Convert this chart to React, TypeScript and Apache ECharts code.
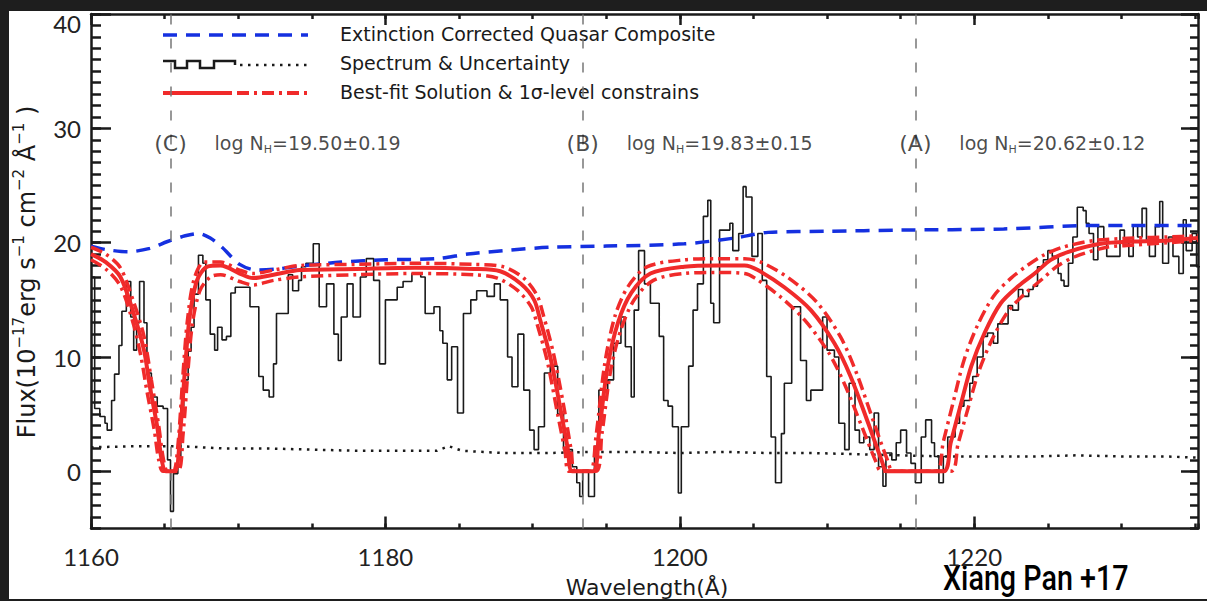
import React, { useEffect, useRef } from 'react';
import * as echarts from 'echarts';

// ---------- data ----------
const xTicks = [1160, 1180, 1200, 1220];
const yTicks = [0, 10, 20, 30, 40];

// observed spectrum (bin start wavelength, flux)
const specWave = [
  1160.0, 1160.25, 1160.6, 1160.95, 1161.1, 1161.4, 1161.6, 1161.9, 1162.1, 1162.4,
  1162.7, 1162.9, 1163.1, 1163.3, 1163.6, 1163.8, 1164.1, 1164.5, 1164.9, 1165.2,
  1165.4, 1165.6, 1165.9, 1166.1, 1166.3, 1166.6, 1166.8, 1167.0, 1167.3, 1167.6,
  1167.8, 1168.1, 1168.4, 1168.6, 1168.9, 1169.2, 1169.5, 1169.8, 1170.8, 1171.4,
  1171.7, 1172.1, 1172.4, 1172.6, 1173.4, 1173.7, 1174.1, 1174.3, 1174.6, 1175.1,
  1175.5, 1176.0, 1176.5, 1176.8, 1177.0, 1177.4, 1177.8, 1178.3, 1178.7, 1179.2,
  1179.6, 1180.0, 1180.8, 1181.2, 1181.8, 1182.4, 1182.7, 1183.3, 1183.7, 1183.9,
  1184.2, 1184.5, 1184.9, 1185.3, 1185.8, 1186.2, 1186.9, 1187.4, 1187.8, 1188.3,
  1188.6, 1189.0, 1189.4, 1189.8, 1190.1, 1190.4, 1190.8, 1191.2, 1191.7, 1192.1,
  1192.7, 1193.0, 1193.2, 1193.4, 1193.8, 1194.2, 1194.5, 1195.1, 1195.5, 1196.0,
  1196.3, 1196.7, 1196.9, 1197.2, 1197.6, 1198.0, 1198.6, 1198.9, 1199.2, 1199.5,
  1199.9, 1200.1, 1200.6, 1200.9, 1201.2, 1201.6, 1201.9, 1202.1, 1202.3, 1202.7,
  1203.4, 1203.6, 1204.0, 1204.3, 1204.5, 1204.9, 1205.3, 1205.6, 1205.9, 1206.2,
  1206.5, 1206.9, 1207.1, 1207.6, 1208.2, 1208.6, 1208.9, 1209.7, 1210.0, 1210.5,
  1210.8, 1211.2, 1211.5, 1211.9, 1212.2, 1212.5, 1212.9, 1213.2, 1213.5, 1213.8,
  1214.0, 1214.4, 1214.7, 1215.0, 1215.4, 1215.7, 1216.0, 1216.4, 1216.7, 1217.1,
  1217.3, 1217.6, 1217.9, 1218.2, 1218.7, 1219.0, 1219.3, 1219.7, 1219.9, 1220.2,
  1220.6, 1220.9, 1221.3, 1221.6, 1222.3, 1222.6, 1223.0, 1223.3, 1223.7, 1224.0,
  1224.3, 1224.7, 1225.0, 1225.3, 1225.7, 1225.9, 1226.1, 1226.4, 1226.7, 1227.0,
  1227.4, 1227.6, 1227.8, 1228.1, 1228.4, 1228.8, 1229.0, 1229.9, 1230.2, 1230.5,
  1230.8, 1231.1, 1231.4, 1231.7, 1231.9, 1232.3, 1232.6, 1232.8, 1233.2, 1233.5,
  1233.9, 1234.2, 1234.4, 1234.8, 1235.1, 1235.4,
];
const specFlux = [
  17.0, 5.5, 4.8, 4.2, 3.6, 6.2, 8.5, 11.0, 14.0, 16.6,
  13.5, 10.6, 13.0, 16.6, 13.0, 8.6, 6.5, 5.7, 5.5, 1.0,
  -3.5, -0.2, 0.5, 5.7, 8.0, 10.5, 12.6, 15.5, 18.9, 18.2,
  15.0, 12.0, 10.6, 12.6, 11.5, 11.8, 15.6, 16.1, 14.4, 8.3,
  7.1, 6.5, 9.4, 13.8, 17.2, 15.8, 16.7, 17.9, 18.2, 19.9,
  14.4, 16.4, 12.0, 9.7, 13.5, 16.4, 13.5, 17.0, 18.6, 16.7,
  9.4, 15.0, 16.1, 16.6, 17.3, 17.0, 13.8, 14.4, 12.3, 11.2,
  8.0, 10.9, 5.1, 13.8, 15.0, 15.8, 15.3, 16.4, 15.0, 10.0,
  7.4, 12.0, 7.1, 3.6, 1.9, 3.9, 8.6, 9.2, 5.0, 1.9,
  0.4, -1.0, -2.2, 0.1, -2.2, 2.2, 7.1, 8.0, 11.2, 13.5,
  10.9, 6.5, 14.1, 19.3, 16.4, 14.7, 11.8, 6.2, 5.7, 3.9,
  -1.9, 3.9, 9.2, 14.1, 16.4, 22.3, 23.7, 14.7, 13.0, 21.1,
  21.7, 19.3, 20.8, 24.9, 24.0, 18.8, 20.8, 16.7, 8.3, 3.0,
  -1.0, 3.3, 7.7, 14.4, 9.7, 6.2, 7.1, 13.5, 10.6, 10.0,
  4.2, 1.9, 7.7, 3.6, 2.5, 3.0, 1.9, 5.1, 0.4, -1.3,
  1.6, 1.0, 2.5, 3.6, 1.6, 0.7, -1.0, 3.0, 4.5, 2.5,
  1.3, -1.0, 1.3, 3.0, 4.2, 5.7, 6.2, 7.7, 8.3, 10.0,
  11.8, 12.1, 11.2, 12.9, 14.5, 14.1, 15.9, 15.3, 15.9, 16.2,
  17.9, 18.5, 19.3, 18.8, 17.3, 16.7, 16.2, 18.2, 20.5, 23.1,
  22.8, 21.7, 20.8, 18.5, 21.4, 20.2, 18.8, 21.1, 20.0, 18.8,
  21.5, 20.5, 23.0, 20.2, 18.8, 21.4, 23.6, 18.2, 20.5, 18.8,
  17.3, 22.0, 19.3, 20.8, 17.9, 17.9,
];

// uncertainty
const errWave = [1160, 1163, 1166, 1169, 1172, 1175, 1178, 1181, 1183.5, 1184.3, 1185.2, 1188, 1191, 1194, 1197, 1200, 1203, 1206, 1209, 1212, 1215, 1218, 1221, 1224, 1227, 1230, 1233, 1235.2];
const errFlux = [2.1, 2.2, 2.2, 2.0, 2.0, 1.9, 1.8, 1.8, 1.8, 2.2, 1.8, 1.6, 1.6, 1.7, 1.7, 1.6, 1.7, 1.6, 1.6, 1.5, 1.4, 1.3, 1.3, 1.3, 1.4, 1.3, 1.3, 1.2];

// extinction corrected quasar composite
const compWave = [1160, 1161, 1162.5, 1164, 1165.2, 1166.4, 1167.3, 1168.1, 1168.9, 1170.1, 1171.3, 1172.7, 1174.5, 1177, 1180, 1183.5, 1185.6, 1188, 1191.2, 1195, 1200.3, 1203.7, 1206, 1210, 1215, 1222, 1228, 1235.2];
const compFlux = [19.7, 19.4, 19.2, 19.5, 20.1, 20.6, 20.8, 20.4, 19.6, 18.1, 17.6, 17.7, 18.0, 18.3, 18.5, 18.6, 19.0, 19.3, 19.6, 19.7, 19.9, 20.4, 20.9, 21.0, 21.1, 21.2, 21.5, 21.5];

// best-fit solution
const fitWave = [1160, 1161, 1162, 1162.9, 1163.6, 1164.0, 1164.5, 1164.8, 1165.1, 1165.7, 1166.05, 1166.4, 1166.7, 1167.2, 1167.9, 1168.8, 1170.1, 1171.0, 1172.4, 1174.2, 1178, 1182, 1186, 1187.8, 1189.2, 1190.1, 1190.5, 1191.2, 1191.9, 1192.4, 1192.7, 1194.1, 1194.5, 1195.1, 1195.8, 1196.7, 1198.0, 1200.3, 1202.6, 1204.4, 1205.3, 1207.1, 1208.9, 1210.5, 1211.6, 1212.8, 1213.7, 1214.1, 1217.9, 1218.4, 1219.1, 1219.8, 1220.7, 1221.8, 1223.0, 1224.1, 1225.2, 1226.4, 1228.6, 1230.9, 1233.2, 1235.2];
const fitFlux = [19.0, 18.3, 17.0, 13.8, 10.6, 7.4, 3.9, 1.0, 0, 0, 3.3, 9.2, 13.5, 16.7, 17.9, 18.0, 17.3, 16.9, 17.2, 17.6, 17.7, 17.8, 17.7, 17.5, 16.4, 15.0, 13.3, 10.0, 5.4, 1.9, 0, 0, 3.3, 9.2, 13.0, 15.6, 17.3, 17.9, 18.0, 18.0, 17.6, 16.1, 14.1, 11.2, 8.3, 4.2, 1.0, 0, 0, 2.5, 5.9, 9.2, 12.1, 14.7, 16.2, 17.3, 18.5, 19.2, 19.9, 20.1, 20.2, 20.4];

// 1-sigma upper constraint
const upWave = [1160, 1161, 1162, 1162.9, 1163.6, 1164.1, 1164.6, 1164.9, 1165.2, 1165.6, 1165.9, 1166.25, 1166.55, 1167.0, 1167.7, 1168.8, 1170.1, 1171.0, 1172.4, 1174.2, 1178, 1182, 1186, 1188.0, 1189.4, 1190.3, 1190.7, 1191.4, 1192.1, 1192.6, 1192.9, 1193.9, 1194.3, 1194.9, 1195.6, 1196.5, 1197.8, 1200.3, 1202.6, 1204.4, 1205.5, 1207.4, 1209.3, 1210.9, 1212.0, 1213.2, 1214.1, 1214.5, 1217.4, 1217.9, 1218.6, 1219.3, 1220.2, 1221.3, 1222.5, 1223.6, 1224.7, 1226.0, 1228.2, 1230.9, 1233.2, 1235.2];
const upFlux = [19.6, 19.0, 17.8, 14.8, 11.8, 8.0, 4.0, 1.2, 0, 0, 2.2, 8.5, 13.2, 16.8, 18.3, 18.3, 17.6, 17.3, 17.6, 18.0, 18.1, 18.2, 18.1, 17.9, 16.9, 15.4, 13.8, 10.4, 5.8, 2.0, 0, 0, 3.0, 9.4, 13.6, 16.2, 17.9, 18.5, 18.6, 18.6, 18.3, 16.9, 14.8, 11.8, 8.6, 4.2, 1.0, 0, 0, 2.6, 6.2, 9.7, 12.7, 15.3, 16.9, 18.0, 18.9, 19.6, 20.2, 20.4, 20.5, 20.6];

// 1-sigma lower constraint
const lowWave = [1160, 1161, 1162, 1162.9, 1163.4, 1163.8, 1164.3, 1164.6, 1164.9, 1165.9, 1166.25, 1166.6, 1166.9, 1167.4, 1168.1, 1168.8, 1170.1, 1171.0, 1172.4, 1174.2, 1178, 1182, 1186, 1187.6, 1189.0, 1189.9, 1190.3, 1191.0, 1191.7, 1192.2, 1192.5, 1194.3, 1194.7, 1195.3, 1196.0, 1196.9, 1198.2, 1200.3, 1202.6, 1204.4, 1205.1, 1206.8, 1208.5, 1210.1, 1211.2, 1212.4, 1213.3, 1213.7, 1218.4, 1218.9, 1219.6, 1220.3, 1221.2, 1222.3, 1223.5, 1224.6, 1225.7, 1226.9, 1229.0, 1230.9, 1233.2, 1235.2];
const lowFlux = [18.5, 17.7, 16.2, 12.8, 10.0, 7.0, 3.6, 1.0, 0, 0, 3.2, 9.0, 13.0, 15.8, 17.0, 17.2, 16.6, 16.3, 16.7, 17.0, 17.2, 17.3, 17.2, 16.9, 15.8, 14.4, 12.9, 9.6, 5.0, 1.8, 0, 0, 3.2, 8.8, 12.4, 15.0, 16.7, 17.3, 17.4, 17.3, 16.9, 15.3, 13.2, 10.4, 7.6, 3.8, 0.9, 0, 0, 2.4, 5.6, 8.7, 11.5, 14.0, 15.6, 16.8, 18.0, 18.8, 19.6, 19.8, 20.0, 20.2];

// absorbers
const absNames = ['(C)', '(B)', '(A)'];
const absWave = [1165.4, 1193.4, 1216.0];
const absLogN = ['19.50±0.19', '19.83±0.15', '20.62±0.12'];
const labelFlux = 28.7;

const legendTexts = [
  'Extinction Corrected Quasar Composite',
  'Spectrum & Uncertainty',
  'Best-fit Solution & 1σ-level constrains',
];

// ---------- styles ----------
const BLUE = '#1530e0';
const RED = '#f02a2a';
const INK = '#1a1a1a';
const TXT = 'DejaVu Sans, sans-serif';
const NUM = 'Lato, sans-serif';

const zip = (a: number[], b: number[]) => a.map((v, i) => [v, b[i]]);

function buildOption() {
  const xRange = { min: 1160, max: 1235.2 };
  const yRange = { min: -5, max: 40 };
  const line = { show: true, onZero: false, lineStyle: { color: INK, width: 2.5 } };
  const noLine = { show: false, onZero: false };

  const xAxis: any[] = [
    {
      type: 'value', position: 'bottom', ...xRange, axisLine: line, splitLine: { show: false },
      axisTick: { inside: true, length: 12, customValues: xTicks, lineStyle: { color: INK, width: 2.5 } },
      axisLabel: {
        customValues: xTicks, fontSize: 24, fontFamily: NUM, color: '#222', margin: 16,
        formatter: (v: number) => String(v),
      },
    },
    {
      type: 'value', position: 'top', ...xRange, axisLine: line, splitLine: { show: false },
      axisTick: { inside: true, length: 11, customValues: xTicks, lineStyle: { color: INK, width: 2.5 } },
      axisLabel: { show: false },
    },
    {
      type: 'value', position: 'bottom', ...xRange, interval: 5, axisLine: noLine, splitLine: { show: false },
      axisTick: { inside: true, length: 5, lineStyle: { color: INK, width: 2.5 } }, axisLabel: { show: false },
    },
    {
      type: 'value', position: 'top', ...xRange, interval: 5, axisLine: noLine, splitLine: { show: false },
      axisTick: { inside: true, length: 5, lineStyle: { color: INK, width: 2.5 } }, axisLabel: { show: false },
    },
  ];
  const yAxis: any[] = [
    {
      type: 'value', position: 'left', ...yRange, axisLine: line, splitLine: { show: false },
      axisTick: { inside: true, length: 20, customValues: yTicks, lineStyle: { color: INK, width: 2.5 } },
      axisLabel: {
        customValues: yTicks, fontSize: 24, fontFamily: NUM, color: '#222', margin: 10,
        formatter: (v: number) => (v === 40 ? '{t|40}' : String(v)),
        rich: { t: { fontSize: 24, fontFamily: NUM, color: '#222', padding: [18, 0, 0, 0] } },
      },
    },
    {
      type: 'value', position: 'right', ...yRange, axisLine: line, splitLine: { show: false },
      axisTick: { inside: true, length: 17, customValues: yTicks, lineStyle: { color: INK, width: 2.5 } },
      axisLabel: { show: false },
    },
    {
      type: 'value', position: 'left', ...yRange, interval: 1, axisLine: noLine, splitLine: { show: false },
      axisTick: { inside: true, length: 10, lineStyle: { color: INK, width: 2.5 } }, axisLabel: { show: false },
    },
    {
      type: 'value', position: 'right', ...yRange, interval: 1, axisLine: noLine, splitLine: { show: false },
      axisTick: { inside: true, length: 8, lineStyle: { color: INK, width: 2.5 } }, axisLabel: { show: false },
    },
  ];

  const base = { type: 'line', xAxisIndex: 0, yAxisIndex: 0, symbol: 'none', silent: true };

  const series: any[] = [
    {
      ...base, name: 'uncertainty', z: 2, data: zip(errWave, errFlux),
      lineStyle: { color: INK, width: 2.5, type: [2.5, 5.5] },
      markLine: {
        silent: true, symbol: ['none', 'none'], label: { show: false },
        lineStyle: { color: '#777', width: 1.5, type: [10, 14] },
        data: absWave.map((w) => ({ xAxis: w })),
      },
    },
    {
      ...base, name: 'spectrum', z: 3, step: 'end', data: zip(specWave, specFlux),
      lineStyle: { color: INK, width: 1.6 },
    },
    {
      ...base, name: 'composite', z: 4, data: zip(compWave, compFlux), smooth: 0.3,
      lineStyle: { color: BLUE, width: 3.5, type: [14, 9] },
    },
    {
      ...base, name: 'upper', z: 5, data: zip(upWave, upFlux), smooth: 0.3,
      lineStyle: { color: RED, width: 3.5, type: [12, 5, 3, 5] },
    },
    {
      ...base, name: 'lower', z: 5, data: zip(lowWave, lowFlux), smooth: 0.3,
      lineStyle: { color: RED, width: 3.5, type: [12, 5, 3, 5] },
    },
    {
      ...base, name: 'bestfit', z: 6, data: zip(fitWave, fitFlux), smooth: 0.3,
      lineStyle: { color: RED, width: 4 },
    },
    {
      type: 'scatter', xAxisIndex: 0, yAxisIndex: 0, symbolSize: 0, silent: true, z: 7,
      data: absWave.map((w, i) => ({ value: [w, labelFlux], name: absNames[i] })),
      label: {
        show: true, position: 'inside', formatter: (p: any) => p.name,
        fontSize: 22, fontFamily: TXT, color: '#1a1a1a',
      },
    },
    {
      type: 'scatter', xAxisIndex: 0, yAxisIndex: 0, symbolSize: 0, silent: true, z: 7,
      data: absWave.map((w, i) => ({ value: [w, labelFlux], name: absLogN[i] })),
      label: {
        show: true, position: 'inside', align: 'left', offset: [44, 0],
        formatter: (p: any) => '{n|log N}{s|H}{n|=' + p.name + '}',
        rich: {
          n: { fontSize: 19, fontFamily: TXT, color: '#1a1a1a', lineHeight: 24 },
          s: { fontSize: 11, fontFamily: TXT, color: '#1a1a1a', lineHeight: 14, verticalAlign: 'bottom' },
        },
      },
    },
  ];

  const legendY = [35, 64, 93];
  const graphic: any[] = [
    { type: 'line', shape: { x1: 163, y1: legendY[0], x2: 308, y2: legendY[0] }, style: { stroke: BLUE, lineWidth: 3.5, lineDash: [14, 9] } },
    {
      type: 'polyline',
      shape: { points: [[163, 61], [175, 61], [175, 68], [187, 68], [187, 61], [200, 61], [200, 68], [214, 68], [214, 61], [235, 61], [235, 65]] },
      style: { stroke: INK, lineWidth: 2.5, fill: null },
    },
    { type: 'line', shape: { x1: 240, y1: 65, x2: 310, y2: 65 }, style: { stroke: INK, lineWidth: 2.5, lineDash: [2.5, 5.5] } },
    { type: 'line', shape: { x1: 163, y1: legendY[2], x2: 232, y2: legendY[2] }, style: { stroke: RED, lineWidth: 4 } },
    { type: 'line', shape: { x1: 237, y1: legendY[2], x2: 310, y2: legendY[2] }, style: { stroke: RED, lineWidth: 4, lineDash: [12, 5, 3, 5] } },
    ...legendTexts.map((t, i) => ({
      type: 'text', x: 340, y: legendY[i] - 1,
      style: { text: t, font: `19px ${TXT}`, fill: '#1a1a1a', verticalAlign: 'middle' },
    })),
    {
      type: 'text', x: 27, y: 272, rotation: Math.PI / 2,
      style: {
        text: '{m|Flux(10}{s|−17}{m|erg s}{s|−1}{m| cm}{s|−2}{m| Å}{s|−1}{m| )}',
        align: 'center', verticalAlign: 'middle',
        rich: {
          m: { fontSize: 24, fontFamily: TXT, fill: '#1a1a1a', lineHeight: 32 },
          s: { fontSize: 15, fontFamily: TXT, fill: '#1a1a1a', lineHeight: 15, verticalAlign: 'top' },
        },
      },
    },
    {
      type: 'text', x: 647, y: 587,
      style: { text: 'Wavelength(Å)', font: `22px ${TXT}`, fill: '#1a1a1a', align: 'center', verticalAlign: 'middle' },
    },
    {
      type: 'text', x: 943, y: 578, scaleX: 0.82,
      style: { text: 'Xiang Pan +17', font: `500 35px Roboto, sans-serif`, fill: '#000', align: 'left', verticalAlign: 'middle' },
    },
  ];

  return {
    animation: false,
    grid: { left: 91, right: 9, top: 14, bottom: 72.5, containLabel: false },
    xAxis, yAxis, series, graphic,
  };
}

export default function App() {
  const ref = useRef<HTMLDivElement>(null);
  useEffect(() => {
    if (!ref.current) return;
    const chart = echarts.init(ref.current, null, { renderer: 'svg' });
    chart.setOption(buildOption() as any);
    return () => chart.dispose();
  }, []);
  return (
    <div style={{ position: 'fixed', left: 0, top: 0, width: 1207, height: 601, background: '#1e1e1e', overflow: 'hidden' }}>
      <div style={{ position: 'absolute', left: 9, top: 11, width: 1198, height: 588, background: '#fff' }} />
      <div ref={ref} style={{ position: 'absolute', left: 0, top: 0, width: 1207, height: 601 }} />
    </div>
  );
}
